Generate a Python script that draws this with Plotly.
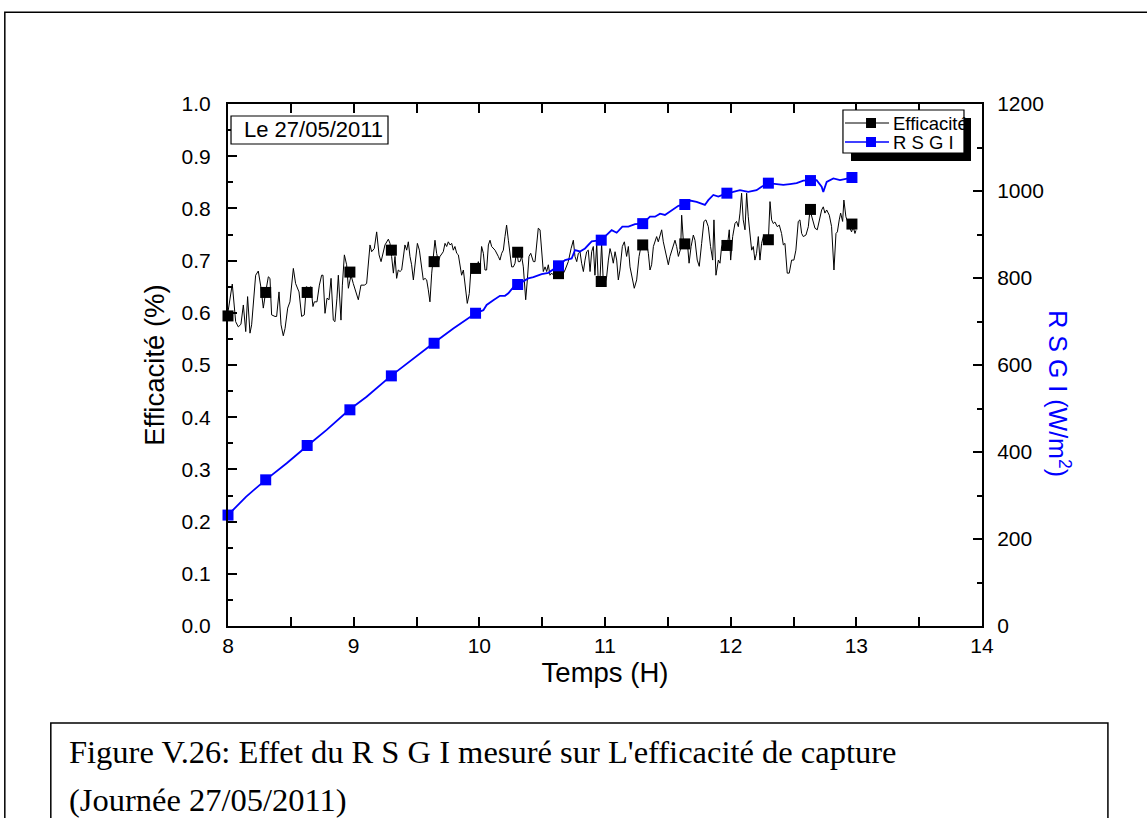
import plotly.graph_objects as go

# efficiency, measured curve (hours, fraction)
eff_t = [8.000, 8.034, 8.061, 8.082, 8.103, 8.122, 8.141, 8.156, 8.175, 8.188,
         8.220, 8.241, 8.263, 8.281, 8.300, 8.321, 8.334, 8.347, 8.374, 8.387,
         8.406, 8.422, 8.440, 8.454, 8.475, 8.493, 8.520, 8.538, 8.565, 8.586,
         8.607, 8.623, 8.645, 8.660, 8.676, 8.687, 8.708, 8.727, 8.745, 8.756,
         8.772, 8.788, 8.804, 8.820, 8.838, 8.851, 8.867, 8.878, 8.899, 8.910,
         8.926, 8.944, 8.958, 8.979, 8.997, 9.016, 9.037, 9.058, 9.085, 9.103,
         9.130, 9.143, 9.164, 9.183, 9.202, 9.218, 9.236, 9.249, 9.276, 9.289,
         9.302, 9.316, 9.329, 9.342, 9.355, 9.369, 9.382, 9.395, 9.408, 9.422,
         9.435, 9.448, 9.461, 9.475, 9.496, 9.507, 9.523, 9.541, 9.554, 9.568,
         9.581, 9.594, 9.607, 9.621, 9.634, 9.647, 9.660, 9.674, 9.687, 9.713,
         9.727, 9.740, 9.753, 9.767, 9.780, 9.793, 9.806, 9.820, 9.833, 9.846,
         9.859, 9.873, 9.886, 9.904, 9.920, 9.931, 9.952, 9.979, 9.992, 10.005,
         10.018, 10.032, 10.045, 10.058, 10.072, 10.085, 10.098, 10.125, 10.151, 10.164,
         10.178, 10.191, 10.204, 10.217, 10.231, 10.244, 10.257, 10.271, 10.284, 10.297,
         10.310, 10.324, 10.337, 10.350, 10.369, 10.382, 10.395, 10.409, 10.430, 10.443,
         10.456, 10.469, 10.483, 10.496, 10.509, 10.523, 10.536, 10.549, 10.562, 10.576,
         10.602, 10.629, 10.655, 10.682, 10.708, 10.730, 10.748, 10.761, 10.775, 10.788,
         10.801, 10.814, 10.828, 10.841, 10.854, 10.867, 10.881, 10.894, 10.907, 10.920,
         10.934, 10.947, 10.960, 10.973, 10.987, 11.000, 11.013, 11.027, 11.040, 11.053,
         11.066, 11.080, 11.093, 11.106, 11.119, 11.138, 11.154, 11.172, 11.186, 11.199,
         11.212, 11.233, 11.252, 11.271, 11.286, 11.305, 11.318, 11.332, 11.345, 11.358,
         11.371, 11.385, 11.398, 11.411, 11.424, 11.438, 11.451, 11.464, 11.477, 11.491,
         11.504, 11.517, 11.531, 11.544, 11.557, 11.570, 11.584, 11.602, 11.610, 11.623,
         11.642, 11.658, 11.669, 11.685, 11.703, 11.716, 11.734, 11.750, 11.769, 11.787,
         11.803, 11.822, 11.840, 11.857, 11.867, 11.883, 11.902, 11.915, 11.928, 11.941,
         11.955, 11.973, 11.989, 12.000, 12.016, 12.034, 12.047, 12.061, 12.074, 12.087,
         12.100, 12.114, 12.127, 12.140, 12.153, 12.167, 12.180, 12.193, 12.206, 12.220,
         12.233, 12.246, 12.260, 12.281, 12.299, 12.313, 12.326, 12.339, 12.352, 12.371,
         12.387, 12.405, 12.419, 12.432, 12.450, 12.466, 12.485, 12.503, 12.519, 12.538,
         12.551, 12.565, 12.578, 12.599, 12.618, 12.631, 12.652, 12.671, 12.689, 12.705,
         12.724, 12.737, 12.750, 12.764, 12.785, 12.803, 12.822, 12.838, 12.849, 12.864,
         12.875, 12.891, 12.901, 12.917, 12.936, 12.949, 12.962, 12.975, 12.989, 12.997]
eff_v = [0.602, 0.655, 0.583, 0.573, 0.578, 0.615, 0.564, 0.631, 0.561, 0.577,
         0.672, 0.680, 0.647, 0.609, 0.640, 0.669, 0.666, 0.596, 0.593, 0.593,
         0.640, 0.577, 0.556, 0.570, 0.609, 0.621, 0.685, 0.656, 0.640, 0.593,
         0.596, 0.650, 0.647, 0.650, 0.612, 0.621, 0.621, 0.653, 0.672, 0.672,
         0.599, 0.628, 0.625, 0.666, 0.586, 0.583, 0.628, 0.672, 0.586, 0.653,
         0.711, 0.692, 0.647, 0.672, 0.656, 0.640, 0.625, 0.653, 0.653, 0.656,
         0.730, 0.717, 0.723, 0.755, 0.711, 0.698, 0.714, 0.730, 0.741, 0.733,
         0.708, 0.676, 0.708, 0.666, 0.682, 0.679, 0.682, 0.708, 0.730, 0.720,
         0.736, 0.708, 0.692, 0.663, 0.714, 0.733, 0.720, 0.682, 0.663, 0.666,
         0.663, 0.644, 0.621, 0.676, 0.714, 0.739, 0.714, 0.698, 0.708, 0.717,
         0.733, 0.727, 0.736, 0.730, 0.733, 0.720, 0.727, 0.714, 0.711, 0.692,
         0.672, 0.682, 0.656, 0.618, 0.637, 0.676, 0.685, 0.688, 0.698, 0.682,
         0.727, 0.714, 0.682, 0.682, 0.730, 0.739, 0.727, 0.720, 0.708, 0.701,
         0.714, 0.720, 0.746, 0.768, 0.739, 0.714, 0.688, 0.688, 0.695, 0.720,
         0.698, 0.698, 0.708, 0.688, 0.625, 0.663, 0.708, 0.714, 0.698, 0.698,
         0.739, 0.762, 0.759, 0.708, 0.679, 0.688, 0.679, 0.692, 0.672, 0.676,
         0.669, 0.666, 0.669, 0.682, 0.698, 0.723, 0.739, 0.708, 0.698, 0.714,
         0.717, 0.695, 0.679, 0.701, 0.717, 0.720, 0.679, 0.717, 0.727, 0.672,
         0.733, 0.656, 0.663, 0.733, 0.656, 0.656, 0.669, 0.701, 0.723, 0.711,
         0.695, 0.717, 0.701, 0.663, 0.682, 0.727, 0.736, 0.708, 0.727, 0.688,
         0.669, 0.647, 0.663, 0.708, 0.727, 0.733, 0.736, 0.733, 0.714, 0.682,
         0.692, 0.727, 0.736, 0.746, 0.736, 0.746, 0.759, 0.736, 0.720, 0.708,
         0.692, 0.708, 0.720, 0.727, 0.739, 0.727, 0.708, 0.723, 0.787, 0.739,
         0.733, 0.727, 0.695, 0.727, 0.749, 0.739, 0.701, 0.689, 0.733, 0.775,
         0.778, 0.765, 0.727, 0.701, 0.778, 0.672, 0.701, 0.695, 0.727, 0.733,
         0.739, 0.727, 0.759, 0.701, 0.746, 0.771, 0.775, 0.765, 0.791, 0.829,
         0.778, 0.759, 0.829, 0.784, 0.746, 0.720, 0.727, 0.701, 0.714, 0.746,
         0.701, 0.733, 0.746, 0.739, 0.733, 0.813, 0.778, 0.771, 0.774, 0.765,
         0.768, 0.752, 0.730, 0.733, 0.676, 0.676, 0.701, 0.701, 0.720, 0.775,
         0.778, 0.752, 0.746, 0.749, 0.765, 0.797, 0.778, 0.762, 0.759, 0.778,
         0.797, 0.803, 0.791, 0.797, 0.787, 0.765, 0.682, 0.752, 0.755, 0.778,
         0.791, 0.775, 0.816, 0.784, 0.768, 0.762, 0.755, 0.765, 0.752, 0.758]

# symbols drawn every 20 minutes
mark_t = [8.00, 8.30, 8.63, 8.97, 9.30, 9.64, 9.97, 10.305,
          10.63, 10.97, 11.30, 11.635, 11.97, 12.30, 12.635, 12.965]
eff_mark = [0.594, 0.639, 0.639, 0.678, 0.720, 0.698, 0.685, 0.716,
            0.675, 0.660, 0.730, 0.732, 0.729, 0.740, 0.798, 0.770]
rsgi_mark = [255, 336, 415, 497, 575, 650, 719, 785,
             828, 887, 925, 969, 995, 1018, 1024, 1031]

# R S G I curve (W/m2)
rsgi_t = [8.000, 8.143, 8.300, 8.467, 8.634, 8.785, 8.965, 9.103, 9.297, 9.475,
          9.634, 9.793, 9.970, 10.032, 10.058, 10.111, 10.164, 10.204, 10.231, 10.271,
          10.305, 10.350, 10.389, 10.430, 10.469, 10.496, 10.549, 10.630, 10.682, 10.735,
          10.761, 10.801, 10.841, 10.894, 10.970, 11.013, 11.053, 11.093, 11.138, 11.186,
          11.239, 11.300, 11.358, 11.398, 11.438, 11.477, 11.531, 11.584, 11.635, 11.676,
          11.729, 11.795, 11.822, 11.862, 11.902, 11.970, 12.021, 12.074, 12.140, 12.206,
          12.246, 12.300, 12.366, 12.419, 12.472, 12.525, 12.578, 12.635, 12.684, 12.724,
          12.737, 12.764, 12.817, 12.870, 12.923, 12.965]
rsgi_v = [255, 297, 336, 374, 415, 451, 497, 527, 575, 615,
          650, 684, 719, 726, 738, 749, 759, 759, 765, 779,
          785, 794, 799, 802, 807, 809, 812, 828, 841, 845,
          864, 861, 868, 884, 887, 899, 910, 904, 918, 918,
          924, 925, 941, 941, 948, 945, 956, 966, 969, 978,
          975, 968, 979, 991, 987, 995, 998, 1002, 998, 1002,
          1010, 1018, 1016, 1014, 1016, 1018, 1024, 1024, 1025, 1010,
          998, 1021, 1029, 1025, 1029, 1031]

series_names = ["Efficacité", "R S G I"]

BLUE = "#0000ff"
FONT = "Liberation Sans, Arial, sans-serif"
SERIF = "Liberation Serif, Times New Roman, serif"

fig = go.Figure()

fig.add_trace(go.Scatter(x=eff_t, y=eff_v, mode="lines", name=series_names[0],
                         line=dict(color="black", width=1)))
fig.add_trace(go.Scatter(x=mark_t, y=eff_mark, mode="markers", cliponaxis=False,
                         marker=dict(symbol="square", size=11, color="black")))
fig.add_trace(go.Scatter(x=rsgi_t, y=rsgi_v, mode="lines", yaxis="y2", name=series_names[1],
                         line=dict(color=BLUE, width=1.8)))
fig.add_trace(go.Scatter(x=mark_t, y=rsgi_mark, mode="markers", yaxis="y2",
                         cliponaxis=False,
                         marker=dict(symbol="square", size=11, color=BLUE)))

axis_common = dict(showline=True, linecolor="black", linewidth=2, ticks="inside",
                   tickcolor="black", tickwidth=2, ticklen=9, showgrid=False,
                   zeroline=False, tickfont=dict(family=FONT, size=21, color="black"))

fig.update_layout(
    width=1147, height=818,
    margin=dict(l=228, r=165, t=104, b=192),
    paper_bgcolor="white", plot_bgcolor="white",
    font=dict(family=FONT, color="black"),
    showlegend=False,
    xaxis=dict(range=[8, 14], dtick=1, mirror="allticks",
               minor=dict(dtick=0.5, ticks="inside", ticklen=5, tickcolor="black", tickwidth=1.5),
               title=dict(text="Temps (H)", font=dict(size=27.5), standoff=0),
               **axis_common),
    yaxis=dict(range=[0, 1], dtick=0.1, tickformat=".1f", ticklabelstandoff=11,
               minor=dict(dtick=0.05, ticks="inside", ticklen=5, tickcolor="black", tickwidth=1.5),
               title=dict(text="Efficacité (%)", font=dict(size=27.5), standoff=9),
               **axis_common),
    yaxis2=dict(range=[0, 1200], dtick=200, overlaying="y", side="right",
                ticklabelstandoff=9,
                minor=dict(dtick=100, ticks="inside", ticklen=5, tickcolor="black", tickwidth=1.5),
                **axis_common),
)

# legend box drawn by hand (Origin style, drop shadow on right and bottom)
fig.add_shape(type="rect", xref="paper", yref="paper", layer="above",
              x0=0.8156, x1=0.9761, y0=0.9061, y1=0.9885,
              fillcolor="white", line=dict(color="black", width=1.2))
for cx, cy, w, h in [(0.9808, 0.932, 7, 43), (0.9058, 0.8985, 120, 8)]:
    fig.add_annotation(text=" ", xref="paper", yref="paper", x=cx, y=cy,
                       xanchor="center", yanchor="middle", showarrow=False,
                       width=w, height=h, bgcolor="black", borderpad=0,
                       borderwidth=0, font=dict(size=4))
for row_y, colour, lw, label in [(0.9636, "black", 1, series_names[0]),
                                 (0.9272, BLUE, 1.5, series_names[1])]:
    fig.add_shape(type="line", xref="paper", yref="paper", layer="above",
                  x0=0.8183, x1=0.8767, y0=row_y, y1=row_y,
                  line=dict(color=colour, width=lw))
    fig.add_shape(type="rect", xref="paper", yref="paper", layer="above",
                  x0=0.8528 - 0.0066, x1=0.8528 + 0.0066,
                  y0=row_y - 0.0096, y1=row_y + 0.0096,
                  fillcolor=colour, line=dict(width=0))
    fig.add_annotation(text=label, xref="paper", yref="paper",
                       x=0.8793, y=row_y, xanchor="left", yanchor="middle",
                       showarrow=False, font=dict(size=18.5))

# date box
fig.add_shape(type="rect", xref="paper", yref="paper", layer="above",
              x0=0.004, x1=0.2122, y0=0.9234, y1=0.977,
              fillcolor="white", line=dict(color="black", width=1.2))
fig.add_annotation(text="Le 27/05/2011", xref="paper", yref="paper",
                   x=0.0186, y=0.9502, xanchor="left", yanchor="middle", showarrow=False,
                   font=dict(size=22))

fig.add_annotation(text="R S G I (W/m<sup>2</sup>)", xref="paper", yref="paper",
                   x=1.102, y=0.444, xanchor="center", yanchor="middle",
                   textangle=90, showarrow=False,
                   font=dict(size=25, color=BLUE))

# page frame and caption
fig.add_shape(type="rect", xref="paper", yref="paper",
              x0=-0.296, x1=1.24, y0=-0.40, y1=1.176,
              line=dict(color="black", width=1.5))
fig.add_shape(type="rect", xref="paper", yref="paper",
              x0=-0.235, x1=1.167, y0=-0.40, y1=-0.186,
              line=dict(color="black", width=1.5))
fig.add_annotation(text="Figure V.26: Effet du R S G I mesuré sur L'efficacité de capture",
                   xref="paper", yref="paper", x=-0.2135, y=-0.2414,
                   xanchor="left", yanchor="middle", showarrow=False,
                   font=dict(family=SERIF, size=32.5))
fig.add_annotation(text="(Journée 27/05/2011)",
                   xref="paper", yref="paper", x=-0.2135, y=-0.3333,
                   xanchor="left", yanchor="middle", showarrow=False,
                   font=dict(family=SERIF, size=32.5))

# drop the page's default body margin so the figure sits at the window origin
fig.write_html("out.html", config={"displayModeBar": False},
               post_script="document.body.style.margin='0';")
